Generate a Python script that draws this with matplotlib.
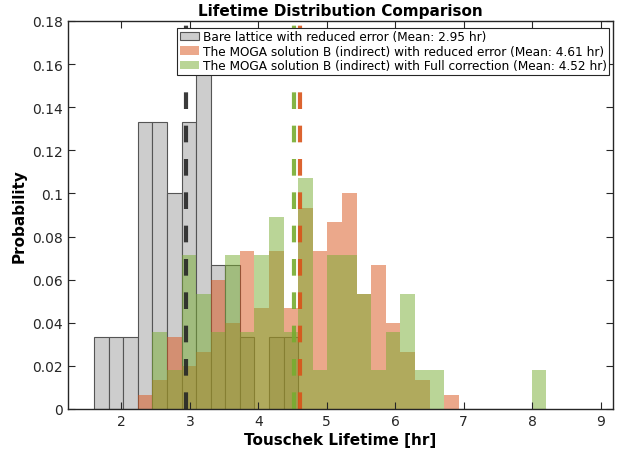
import numpy as np
import matplotlib
matplotlib.use("Agg")
from matplotlib import pyplot as plt

# histogram bins (shared by all three series)
bin_start = 1.60
bin_width = 0.2131
n_bins = 31

# counts per bin
bare_counts = [1, 1, 1, 4, 4, 3, 4, 5, 2, 2, 1, 0, 1, 1, 0, 0, 0, 0, 0, 0,
               0, 0, 0, 0, 0, 0, 0, 0, 0, 0, 0]
moga_red_counts = [0, 0, 0, 1, 2, 5, 3, 4, 9, 6, 11, 7, 11, 7, 14, 11, 13, 15, 8, 10,
                   6, 4, 2, 0, 1, 0, 0, 0, 0, 0, 0]
moga_full_counts = [0, 0, 0, 0, 2, 1, 4, 3, 2, 4, 2, 4, 5, 2, 6, 1, 4, 4, 3, 1,
                    2, 3, 1, 1, 0, 0, 0, 0, 0, 0, 1]

means = [2.95, 4.61, 4.52]
labels = ['Bare lattice with reduced error',
          'The MOGA solution B (indirect) with reduced error',
          'The MOGA solution B (indirect) with Full correction']

yticks = [0, 0.02, 0.04, 0.06, 0.08, 0.1, 0.12, 0.14, 0.16, 0.18]
ytick_labels = ['0', '0.02', '0.04', '0.06', '0.08', '0.1', '0.12', '0.14', '0.16', '0.18']
xticks = [2, 3, 4, 5, 6, 7, 8, 9]

edges = bin_start + bin_width * np.arange(n_bins)

def to_prob(c):
    c = np.asarray(c, dtype=float)
    return c / c.sum()

fig = plt.figure(figsize=(6.22, 4.56), dpi=100)
ax = fig.add_axes([0.1093, 0.1009, 0.8762, 0.8509])

ax.bar(edges, to_prob(bare_counts), width=bin_width, align='edge',
       color='#cdcdcd', edgecolor='#555555', linewidth=0.8,
       label=f'{labels[0]} (Mean: {means[0]:.2f} hr)')
ax.bar(edges, to_prob(moga_red_counts), width=bin_width, align='edge',
       color='#D95319', alpha=0.5, linewidth=0,
       label=f'{labels[1]} (Mean: {means[1]:.2f} hr)')
ax.bar(edges, to_prob(moga_full_counts), width=bin_width, align='edge',
       color='#77AC30', alpha=0.5, linewidth=0,
       label=f'{labels[2]} (Mean: {means[2]:.2f} hr)')

# mean lines
for m, c in zip(means, ['#262626', '#D95319', '#77AC30']):
    ax.axvline(m, color=c, lw=3, ls=(0, (4, 4)), alpha=0.9)

ax.set_xlim(1.22, 9.18)
ax.set_ylim(0, 0.18)
ax.set_xticks(xticks)
ax.set_yticks(yticks)
ax.set_yticklabels(ytick_labels)
ax.tick_params(direction='in', top=True, right=True, length=5,
               labelsize=10, color='#262626', labelcolor='#262626')
for s in ax.spines.values():
    s.set_color('#262626')
    s.set_linewidth(1)

ax.set_xlabel('Touschek Lifetime [hr]', fontsize=11, fontweight='bold', labelpad=3)
ax.set_ylabel('Probability', fontsize=11, fontweight='bold', labelpad=4)
ax.set_title('Lifetime Distribution Comparison', fontsize=11, fontweight='bold', pad=4)

leg = ax.legend(loc='upper right', bbox_to_anchor=(0.993, 0.982), borderaxespad=0,
                fontsize=8.7, frameon=True, fancybox=False, framealpha=1,
                borderpad=0.2, labelspacing=0.12, handlelength=1.6, handletextpad=0.3)
leg.get_frame().set_edgecolor('#262626')
leg.get_frame().set_linewidth(0.8)

fig.savefig('out.png', dpi=100)
